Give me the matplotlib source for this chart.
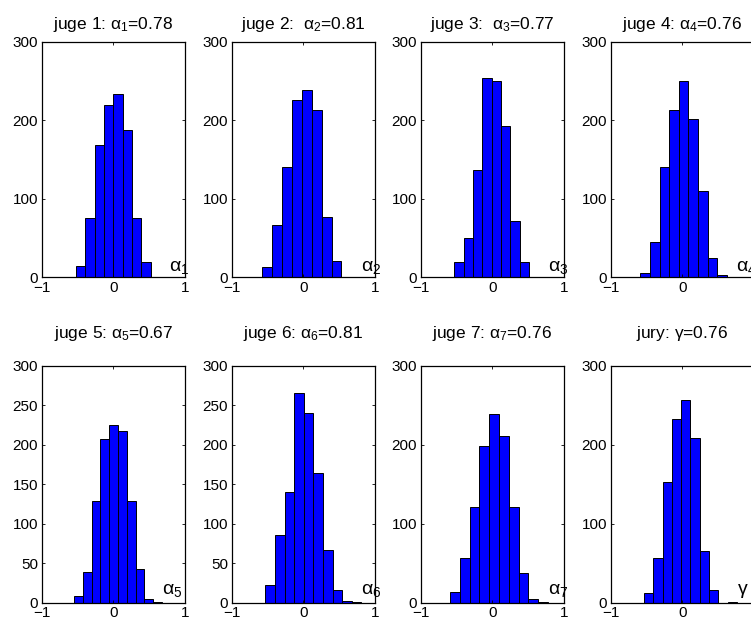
import matplotlib
matplotlib.use('Agg')
import matplotlib.pyplot as plt
import numpy as np

plt.rcParams['font.family'] = ['Liberation Sans', 'DejaVu Sans']
plt.rcParams['mathtext.fontset'] = 'custom'
plt.rcParams['mathtext.rm'] = 'Liberation Sans'
plt.rcParams['mathtext.it'] = 'Liberation Sans'
plt.rcParams['mathtext.bf'] = 'Liberation Sans:bold'

# panel titles and the in-axes labels
titles = [r'juge 1: $\alpha_1$=0.78', r'juge 2:  $\alpha_2$=0.81',
          r'juge 3:  $\alpha_3$=0.77', r'juge 4: $\alpha_4$=0.76',
          r'juge 5: $\alpha_5$=0.67', r'juge 6: $\alpha_6$=0.81',
          r'juge 7: $\alpha_7$=0.76', r'jury: $\gamma$=0.76']
marks = [r'$\alpha_1$', r'$\alpha_2$', r'$\alpha_3$', r'$\alpha_4$',
         r'$\alpha_5$', r'$\alpha_6$', r'$\alpha_7$', r'$\gamma$']

# histogram range (10 equal bins between lo and hi)
lo = [-0.52, -0.58, -0.53, -0.585, -0.55, -0.53, -0.587, -0.535]
hi = [0.78, 0.81, 0.78, 0.755, 0.68, 0.81, 0.78, 0.76]

counts = [
    [14, 76, 168, 220, 233, 188, 76, 19, 1, 1],
    [13, 66, 141, 226, 239, 213, 77, 21, 1, 1],
    [19, 50, 136, 254, 250, 193, 72, 19, 0, 1],
    [6, 45, 141, 213, 250, 202, 110, 24, 3, 1],
    [8, 39, 128, 207, 225, 217, 129, 43, 5, 1],
    [22, 86, 140, 265, 240, 164, 66, 16, 2, 1],
    [14, 56, 121, 198, 239, 211, 121, 38, 5, 1],
    [12, 57, 153, 232, 256, 208, 65, 16, 0, 1],
]

yticks_row = [[0, 100, 200, 300], [0, 100, 200, 300], [0, 100, 200, 300], [0, 100, 200, 300],
              [0, 50, 100, 150, 200, 250, 300], [0, 50, 100, 150, 200, 250, 300],
              [0, 100, 200, 300], [0, 100, 200, 300]]
xticks = [-1, 0, 1]

W, H = 751, 626
fig = plt.figure(figsize=(W / 100, H / 100), dpi=100)

lefts = [41.7, 231.7, 420.5, 610.7]
axw = 143.3
rows = [(41.7, 277.3), (365.5, 602.6)]
title_pad = [9.5, 19.5]
mark_y = [8, 11]

for i in range(8):
    r, c = divmod(i, 4)
    top, bot = rows[r]
    ax = fig.add_axes([lefts[c] / W, 1 - bot / H, axw / W, (bot - top) / H])
    edges = np.linspace(lo[i], hi[i], 11)
    ax.bar(edges[:-1], counts[i], width=np.diff(edges), align='edge',
           color='#0000ff', edgecolor='black', linewidth=0.7)
    ax.set_xlim(-1, 1)
    ax.set_ylim(0, 300)
    ax.set_xticks(xticks)
    ax.set_yticks(yticks_row[i])
    ax.tick_params(direction='in', top=True, right=True, length=2.5, width=0.6,
                   labelsize=11, pad=2.5)
    for s in ax.spines.values():
        s.set_linewidth(0.9)
    ax.set_title(titles[i], fontsize=12.5, pad=title_pad[r])
    ax.text(hi[i], mark_y[r], marks[i], fontsize=14, ha='left', va='baseline',
            clip_on=False)

fig.savefig('out.png', dpi=100)
